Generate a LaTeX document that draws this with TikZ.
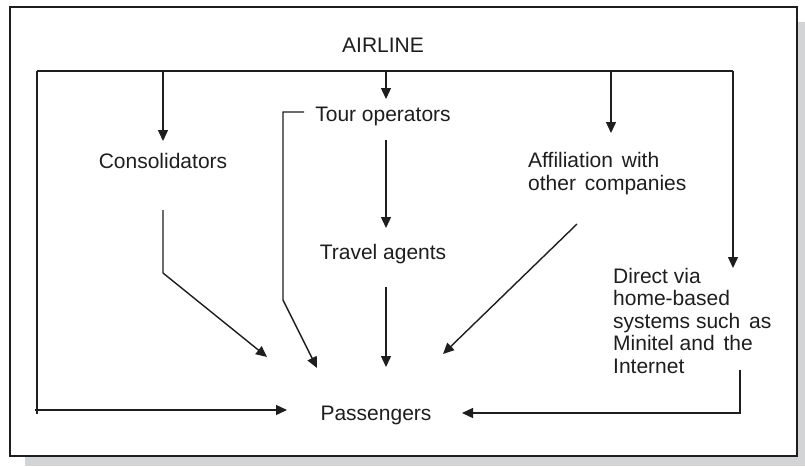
\documentclass[tikz,border=0pt]{standalone}
\usepackage{fontspec}
\setmainfont{Liberation Sans}
\usetikzlibrary{arrows.meta}
\definecolor{shadowgray}{HTML}{D3D4D6}
\definecolor{ink}{HTML}{1E1E1E}
\begin{document}
\begin{tikzpicture}[x=1pt,y=-1pt,
  lbl/.style={inner sep=0pt, text=ink, font=\fontsize{21}{22.5}\selectfont},
  link/.style={draw=ink, line width=1.4pt},
  flow/.style={link, -{Triangle[length=11pt,width=10pt]}}]
\useasboundingbox (0,0) rectangle (805,466);
% frame with drop shadow
\fill[shadowgray] (25,22) rectangle (805,466);
\draw[fill=white, draw=ink, line width=1.3pt] (10,7) rectangle (797,456);

% labels (multi-line labels are placed by the baseline of their last line)
\node[lbl, anchor=base] (airline) at (383,52) {AIRLINE};
\node[lbl, anchor=base] (cons) at (163,168) {Consolidators};
\node[lbl, anchor=base] (tour) at (383,121) {Tour operators};
\node[lbl, anchor=base] (travel) at (383,259) {Travel agents};
\node[lbl, anchor=base west, align=left] (affil) at (528,190)
  {Affiliation\hspace{3pt} with\\other\hspace{3pt} companies};
\node[lbl, anchor=base west, align=left] (direct) at (613,373)
  {Direct via\\home-based\\systems such\hspace{3pt} as\\Minitel and\hspace{3pt} the\\Internet};
\node[lbl, anchor=base] (pass) at (376,420) {Passengers};

% distribution rail below the airline
\coordinate (railL) at (37,71);
\coordinate (railR) at (733,71);
\coordinate (railLB) at (37,414);
\coordinate (leftIn) at (35,410);
\coordinate (leftTip) at (287,410);
\draw[link] (railL) -- (railR);
\draw[link] (railL) -- (railLB);
\draw[flow] (leftIn) -- (leftTip);

% drops from the rail
\draw[flow] (cons |- railL) -- (163,141);
\draw[flow] (386,71) -- (386,99);
\draw[flow] (611,71) -- (611,133);
\draw[flow] (railR) -- (733,268);

% consolidators to passengers
\coordinate (consOut) at (163,210);
\coordinate (consBend) at (163,273);
\coordinate (consTip) at (267,357);
\draw[flow] (consOut) -- (consBend) -- (consTip);

% tour operators, side route to passengers
\coordinate (tourOut) at (304,112);
\coordinate (tourCorner) at (283,112);
\coordinate (tourBend) at (283,300);
\coordinate (tourTip) at (317,368);
\draw[flow] (tourOut) -- (tourCorner) -- (tourBend) -- (tourTip);

% tour operators to travel agents to passengers
\draw[flow] (386,140) -- (386,228);
\draw[flow] (386,287) -- (386,367);

% affiliation to passengers
\coordinate (affOut) at (577,224);
\coordinate (affTip) at (443,354);
\draw[flow] (affOut) -- (affTip);

% direct sales to passengers
\coordinate (dirOut) at (740,370);
\coordinate (dirBend) at (740,413);
\coordinate (dirTip) at (462,413);
\draw[flow] (dirOut) -- (dirBend) -- (dirTip);
\end{tikzpicture}
\end{document}
